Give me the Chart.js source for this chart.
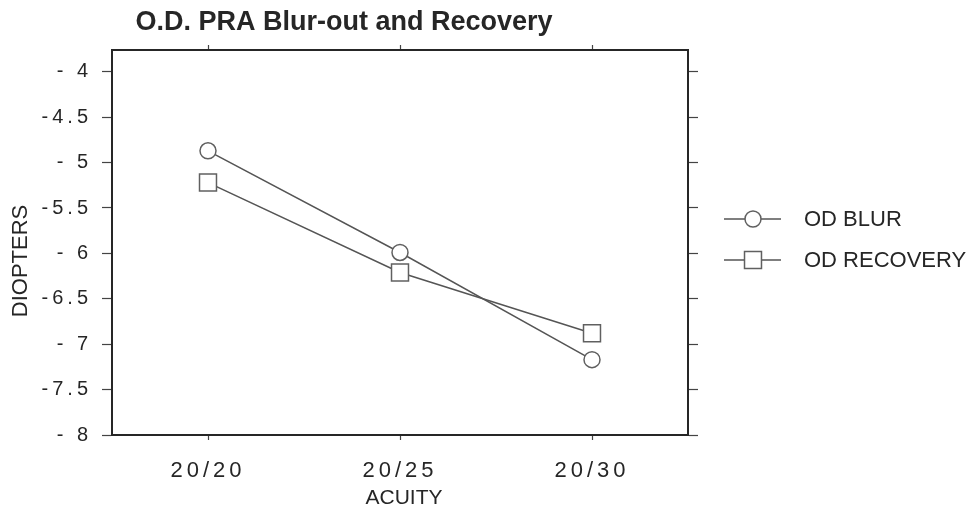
<!DOCTYPE html>
<html>
<head>
<meta charset="utf-8">
<title>O.D. PRA Blur-out and Recovery</title>
<script src="https://cdn.jsdelivr.net/npm/chart.js@4/dist/chart.umd.min.js"></script>
<style>
  html, body { margin: 0; padding: 0; background: #fff; }
  canvas { display: block; }
</style>
</head>
<body>
<canvas id="chart" width="970" height="517"></canvas>
<script>
const acuity = ['20/20', '20/25', '20/30'];
const odBlur = [-4.87, -5.99, -7.17];
const odRecovery = [-5.22, -6.21, -6.88];
const yTickValues = [-8, -7.5, -7, -6.5, -6, -5.5, -5, -4.5, -4];
const yTickLabels = ['- 8', '-7.5', '- 7', '-6.5', '- 6', '-5.5', '- 5', '-4.5', '- 4'];

const ink = '#262626';
const lineGrey = '#555';
Chart.defaults.font.family = '"Liberation Sans", Arial, sans-serif';
Chart.defaults.color = ink;

function setTicks(scale) {
    scale.ticks = yTickValues.map(v => ({ value: v }));
}

// canvas letter spacing only for the tick labels
const spacedLabels = {
    id: 'spacedLabels',
    beforeDraw(chart) {
        const ctx = chart.ctx;
        [['x', '4px'], ['y', '4px']].forEach(([id, sp]) => {
            const s = chart.scales[id];
            if (!s || s._spaced) return;
            const orig = s.drawLabels.bind(s);
            s.drawLabels = function (area) {
                ctx.letterSpacing = sp;
                orig(area);
                ctx.letterSpacing = '0px';
            };
            s._spaced = true;
        });
    }
};

const extras = {
    id: 'extras',
    afterDraw(chart) {
        const ctx = chart.ctx;
        ctx.save();
        ctx.fillStyle = ink;
        ctx.textBaseline = 'middle';

        // axis titles
        ctx.font = '21px "Liberation Sans", Arial, sans-serif';
        ctx.textAlign = 'center';
        ctx.fillText('ACUITY', 404, 498);
        ctx.save();
        ctx.translate(21, 261);
        ctx.rotate(-Math.PI / 2);
        ctx.font = '22px "Liberation Sans", Arial, sans-serif';
        ctx.fillText('DIOPTERS', 0, 0);
        ctx.restore();

        // legend
        ctx.font = '22px "Liberation Sans", Arial, sans-serif';
        ctx.textAlign = 'left';
        const rows = [219, 260];
        chart.data.datasets.forEach((ds, i) => {
            const y = rows[i];
            ctx.strokeStyle = ds.borderColor;
            ctx.lineWidth = ds.borderWidth;
            ctx.beginPath();
            ctx.moveTo(724, y);
            ctx.lineTo(781, y);
            ctx.stroke();
            ctx.fillStyle = '#fff';
            ctx.strokeStyle = ds.pointBorderColor;
            ctx.lineWidth = ds.pointBorderWidth;
            Chart.helpers.drawPoint(ctx, {
                pointStyle: ds.pointStyle,
                radius: ds.pointRadius,
                rotation: 0,
                borderWidth: ds.pointBorderWidth
            }, 753, y);
            ctx.fillStyle = ink;
            ctx.fillText(ds.label, 804, y + 1);
        });
        ctx.restore();
    }
};

new Chart(document.getElementById('chart'), {
    type: 'line',
    data: {
        labels: acuity,
        datasets: [
            {
                label: 'OD BLUR',
                data: odBlur,
                borderColor: lineGrey,
                borderWidth: 1.5,
                pointStyle: 'circle',
                pointRadius: 8,
                pointBackgroundColor: '#fff',
                pointBorderColor: '#606060',
                pointBorderWidth: 1.5,
                tension: 0
            },
            {
                label: 'OD RECOVERY',
                data: odRecovery,
                borderColor: lineGrey,
                borderWidth: 1.5,
                pointStyle: 'rect',
                pointRadius: 12,
                pointBackgroundColor: '#fff',
                pointBorderColor: '#606060',
                pointBorderWidth: 1.5,
                tension: 0
            }
        ]
    },
    options: {
        responsive: false,
        animation: false,
        devicePixelRatio: 1,
        layout: { padding: { left: 0, right: 282, top: 0, bottom: 0 } },
        plugins: {
            legend: { display: false },
            tooltip: { enabled: false },
            title: {
                display: true,
                text: 'O.D. PRA Blur-out and Recovery',
                color: ink,
                font: { size: 27, weight: 'bold', lineHeight: 1 },
                padding: { top: 9, bottom: 9 }
            }
        },
        scales: {
            x: {
                type: 'category',
                position: 'bottom',
                offset: true,
                grid: { drawOnChartArea: false, tickLength: 5, color: '#444', tickWidth: 1.2 },
                border: { color: ink, width: 2 },
                ticks: { font: { size: 22 }, padding: 18, color: ink, maxRotation: 0 },
                afterFit(s) { s.height = 82; }
            },
            x2: {
                type: 'category',
                position: 'top',
                offset: true,
                grid: { drawOnChartArea: false, tickLength: 5, color: '#444', tickWidth: 1.2 },
                border: { color: ink, width: 2 },
                ticks: { display: false },
                afterFit(s) { s.height = 5; }
            },
            y: {
                type: 'linear',
                position: 'left',
                min: -8,
                max: -3.76,
                grid: { drawOnChartArea: false, tickLength: 10, color: '#444', tickWidth: 1.2 },
                border: { color: ink, width: 2 },
                afterBuildTicks: setTicks,
                ticks: {
                    font: { size: 20 },
                    padding: 10,
                    color: ink,
                    callback: (v) => yTickLabels[yTickValues.indexOf(v)]
                },
                afterFit(s) { s.width = 112; }
            },
            y2: {
                type: 'linear',
                position: 'right',
                min: -8,
                max: -3.76,
                grid: { drawOnChartArea: false, tickLength: 10, color: '#444', tickWidth: 1.2 },
                border: { color: ink, width: 2 },
                afterBuildTicks: setTicks,
                ticks: { display: false },
                afterFit(s) { s.width = 0; }
            }
        }
    },
    plugins: [spacedLabels, extras]
});
</script>
</body>
</html>
